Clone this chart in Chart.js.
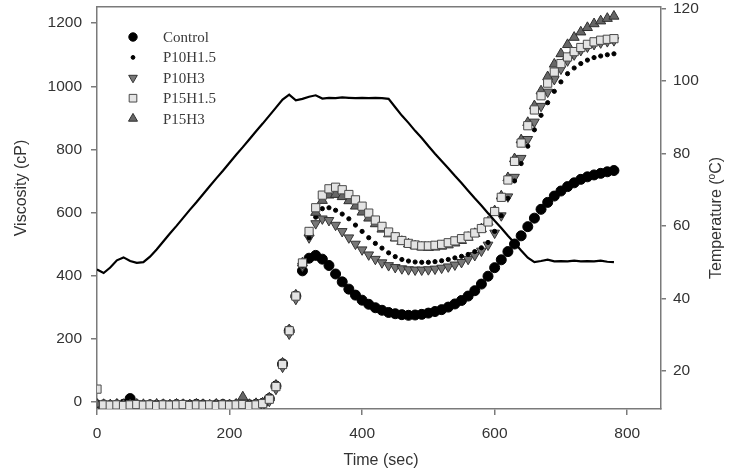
<!DOCTYPE html>
<html>
<head>
<meta charset="utf-8">
<script src="https://cdn.jsdelivr.net/npm/chart.js"></script>
<style>
  body { margin: 0; background: #fff; }
  canvas { display: block; }
</style>
</head>
<body>
<canvas id="chart" width="732" height="470"></canvas>
<script>
// RVA pasting curves, every 10 s
var timeSec = [
    0, 10, 20, 30, 40, 50, 60, 70, 80, 90,
    100, 110, 120, 130, 140, 150, 160, 170, 180, 190,
    200, 210, 220, 230, 240,
    250, 260, 270, 280, 290, 300, 310, 320, 330, 340,
    350, 360, 370, 380, 390, 400, 410, 420, 430, 440,
    450, 460, 470, 480, 490, 500, 510, 520, 530, 540,
    550, 560, 570, 580, 590, 600, 610, 620, 630, 640,
    650, 660, 670, 680, 690, 700, 710, 720, 730, 740,
    750, 760, 770, 780
];

var control = [
    -10, -10, -12, -10, -8, 10, -10, -12, -10, -11,
    -10, -12, -9, -10, -11, -8, -10, -12, -10, -9,
    -11, -10, -12, -10, -8,
    -5, 10, 50, 120, 225, 335, 415, 455, 464, 452,
    432, 405, 380, 357, 338, 322, 309, 298, 290, 283,
    279, 276, 274, 275, 277, 281, 286, 292, 300, 310,
    321, 335, 352, 373, 398, 425, 450, 476, 500, 526,
    555, 582, 610, 632, 652, 668, 682, 694, 705, 713,
    719, 724, 729, 733
];

var p10h15 = [
    -12, -12, -13, -12, -11, -12, -13, -12, -11, -12,
    -12, -13, -12, -11, -12, -13, -12, -12, -11, -13,
    -12, -12, -11, -12, -10,
    -8, 5, 45, 115, 220, 330, 430, 520, 585, 612,
    615, 607, 595, 580, 560, 540, 520, 502, 487, 472,
    460, 451, 446, 443, 442, 442, 444, 447, 451, 456,
    461, 467, 476, 488, 505, 540, 590, 645, 700, 755,
    810, 862, 908, 948, 984, 1014, 1040, 1058, 1072, 1083,
    1091, 1096, 1100, 1103
];

var p10h3 = [
    -14, -15, -14, -13, -15, -14, -15, -13, -14, -15,
    -14, -13, -15, -14, -13, -15, -14, -15, -13, -14,
    -15, -14, -13, -14, -12,
    -10, 2, 40, 110, 215, 325, 430, 520, 565, 580,
    575, 560, 540, 520, 500, 482, 466, 452, 441, 432,
    426, 422, 419, 418, 418, 419, 421, 424, 428, 434,
    442, 452, 464, 478, 497, 535, 590, 650, 712, 772,
    832, 887, 937, 982, 1022, 1055, 1081, 1100, 1114, 1125,
    1133, 1138, 1142, 1145
];

var p15h15 = [
    40, -10, -11, -10, -12, -10, -9, -11, -10, -12,
    -10, -11, -10, -9, -12, -10, -11, -10, -12, -10,
    -11, -10, -9, -12, -10,
    -6, 8, 48, 118, 225, 335, 440, 540, 615, 655,
    675, 680, 672, 657, 640, 620, 598, 576, 556, 538,
    523, 511, 502, 497, 494, 494, 496, 499, 504, 510,
    517, 525, 535, 549, 570, 603, 648, 703, 762, 820,
    875, 925, 970, 1010, 1045, 1072, 1093, 1110, 1123, 1133,
    1141, 1146, 1149, 1151
];

var p15h3 = [
    -8, -9, -10, -8, -9, -10, -8, -9, -10, -8,
    -9, -10, -8, -9, -10, -8, -9, -10, -8, -9,
    -10, -8, 15, -9, -6,
    -4, 12, 52, 122, 228, 338, 440, 535, 600, 638,
    655, 657, 650, 637, 620, 601, 582, 564, 547, 532,
    519, 508, 500, 494, 490, 489, 490, 493, 497, 503,
    511, 521, 533, 548, 570, 605, 652, 710, 770, 830,
    885, 938, 985, 1030, 1070, 1103, 1132, 1155, 1172, 1186,
    1198, 1207, 1215, 1222
];

// temperature (oC), right axis
var tempC = [
    48.0, 47.0, 48.5, 50.5, 51.3, 50.3, 49.8, 50.0, 51.5, 53.5,
    55.7, 57.9, 60.0, 62.2, 64.4, 66.5, 68.7, 70.9, 73.1, 75.2,
    77.4, 79.6, 81.7, 83.9, 86.1,
    88.2, 90.4, 92.6, 94.8, 96.2, 94.6, 95.0, 95.6, 96.0, 95.1,
    95.3, 95.2, 95.4, 95.3, 95.2, 95.3, 95.2, 95.3, 95.2, 95.0,
    92.7, 90.4, 88.4, 86.2, 84.2, 82.0, 79.9, 77.9, 75.9, 73.8,
    71.8, 69.7, 67.6, 65.6, 63.5, 61.4, 59.4, 57.3, 55.3, 53.2,
    51.2, 50.0, 50.3, 50.7, 50.2, 50.3, 50.2, 50.4, 50.2, 50.3,
    50.2, 50.4, 50.1, 50.0
];

var xTicks = [0, 200, 400, 600, 800];
var viscTicks = [0, 200, 400, 600, 800, 1000, 1200];
var tempTicks = [20, 40, 60, 80, 100, 120];

var AXIS = '#7a7a7a';
var TEXT = '#333';
var SANS = '"Liberation Sans", Arial, sans-serif';

function toPoints(vals) {
    return timeSec.map(function (t, i) { return { x: t, y: vals[i] }; });
}

var series = [
    { label: 'Control', vals: control, shape: 'circle', r: 5, lr: 4.2, fill: '#000', edge: '#000', order: 5 },
    { label: 'P10H1.5', vals: p10h15, shape: 'circle', r: 2.1, lr: 1.9, fill: '#000', edge: '#000', order: 3 },
    { label: 'P10H3', vals: p10h3, shape: 'down', r: 5.6, lr: 5, fill: '#777', edge: '#333', order: 4 },
    { label: 'P15H1.5', vals: p15h15, shape: 'rect', r: 5.8, lr: 5.4, fill: '#e4e4e4', edge: '#4a4a4a', order: 1 },
    { label: 'P15H3', vals: p15h3, shape: 'triangle', r: 5.8, lr: 5.2, fill: '#666', edge: '#2e2e2e', order: 2 }
];

var datasets = series.map(function (s) {
    return {
        type: 'scatter',
        label: s.label,
        data: toPoints(s.vals),
        yAxisID: 'y',
        pointStyle: s.shape === 'down' ? 'triangle' : s.shape,
        rotation: s.shape === 'down' ? 180 : 0,
        pointRadius: s.r,
        pointBackgroundColor: s.fill,
        pointBorderColor: s.edge,
        pointBorderWidth: 1,
        order: s.order
    };
});

datasets.push({
    type: 'line',
    label: 'Temperature',
    data: toPoints(tempC),
    yAxisID: 'y2',
    borderColor: '#000',
    borderWidth: 2.2,
    pointRadius: 0,
    tension: 0,
    order: 0
});

function fixedTicks(list) {
    return function (scale) {
        scale.ticks = list.map(function (v) { return { value: v }; });
    };
}

function marker(ctx, s, x, y) {
    var r = s.lr;
    ctx.fillStyle = s.fill;
    ctx.strokeStyle = s.edge;
    ctx.lineWidth = 1;
    ctx.beginPath();
    if (s.shape === 'circle') {
        ctx.arc(x, y, r, 0, Math.PI * 2);
    } else if (s.shape === 'rect') {
        var h = r * Math.SQRT1_2;
        ctx.rect(x - h, y - h, 2 * h, 2 * h);
    } else {
        var dir = s.shape === 'down' ? -1 : 1;
        for (var k = 0; k < 3; k++) {
            var ang = k * 2 * Math.PI / 3;
            var px = x + Math.sin(ang) * r;
            var py = y - dir * Math.cos(ang) * r;
            if (k === 0) ctx.moveTo(px, py); else ctx.lineTo(px, py);
        }
        ctx.closePath();
    }
    ctx.fill();
    ctx.stroke();
}

var decorations = {
    id: 'decorations',
    afterDraw: function (chart) {
        var ctx = chart.ctx;
        var area = chart.chartArea;
        ctx.save();

        // top edge of the frame
        ctx.strokeStyle = AXIS;
        ctx.lineWidth = 1.5;
        ctx.beginPath();
        ctx.moveTo(area.left, area.top);
        ctx.lineTo(area.right, area.top);
        ctx.stroke();

        // axis titles
        ctx.fillStyle = TEXT;
        ctx.font = '16px ' + SANS;
        ctx.textAlign = 'center';
        ctx.textBaseline = 'middle';
        ctx.fillText('Time (sec)', 381, 461);

        ctx.save();
        ctx.translate(22, 188);
        ctx.rotate(-Math.PI / 2);
        ctx.fillText('Viscosity (cP)', 0, 0);
        ctx.restore();

        ctx.save();
        ctx.translate(717, 218);
        ctx.rotate(-Math.PI / 2);
        var head = 'Temperature (', sup = 'o', tail = 'C)';
        ctx.font = '16px ' + SANS;
        var w1 = ctx.measureText(head).width;
        var w3 = ctx.measureText(tail).width;
        ctx.font = '10px ' + SANS;
        var w2 = ctx.measureText(sup).width;
        var x0 = -(w1 + w2 + w3) / 2;
        ctx.textAlign = 'left';
        ctx.font = '16px ' + SANS;
        ctx.fillText(head, x0, 0);
        ctx.font = '10px ' + SANS;
        ctx.fillText(sup, x0 + w1, -5);
        ctx.font = '16px ' + SANS;
        ctx.fillText(tail, x0 + w1 + w2, 0);
        ctx.restore();

        // legend
        ctx.font = '15px "Liberation Serif", "Times New Roman", serif';
        ctx.textAlign = 'left';
        series.forEach(function (s, i) {
            var y = 37 + i * 20.4;
            marker(ctx, s, 133, y);
            ctx.fillStyle = '#3a3a3a';
            ctx.fillText(s.label, 163, y + 1);
        });

        ctx.restore();
    }
};

function axisOpts(extra) {
    var base = {
        type: 'linear',
        grid: { drawOnChartArea: false, color: AXIS, lineWidth: 1.5, tickLength: 6 },
        border: { color: AXIS, width: 1.5 },
        ticks: {
            color: TEXT,
            font: { family: SANS, size: 15.5 },
            padding: 9,
            callback: function (v) { return String(v); }
        }
    };
    return Object.assign(base, extra);
}

var opts = {
    responsive: false,
    animation: false,
    events: [],
    layout: { padding: { top: 6, left: 0, right: 0, bottom: 0 } },
    plugins: { legend: { display: false }, tooltip: { enabled: false } },
    scales: {
        x: axisOpts({
            position: 'bottom',
            min: 0,
            max: 851,
            afterBuildTicks: fixedTicks(xTicks),
            afterFit: function (s) { s.height = 61; s.paddingLeft = 0; s.paddingRight = 0; }
        }),
        y: axisOpts({
            position: 'left',
            min: -23,
            max: 1252,
            afterBuildTicks: fixedTicks(viscTicks),
            afterFit: function (s) { s.width = 97; s.paddingTop = 0; s.paddingBottom = 0; }
        }),
        y2: axisOpts({
            position: 'right',
            min: 9.5,
            max: 120.4,
            afterBuildTicks: fixedTicks(tempTicks),
            afterFit: function (s) { s.width = 71; s.paddingTop = 0; s.paddingBottom = 0; }
        })
    }
};
opts.scales.y2.grid.tickLength = 5;
opts.scales.y2.ticks.padding = 7;

new Chart(document.getElementById('chart'), {
    type: 'scatter',
    data: { datasets: datasets },
    options: opts,
    plugins: [decorations]
});
</script>
</body>
</html>
